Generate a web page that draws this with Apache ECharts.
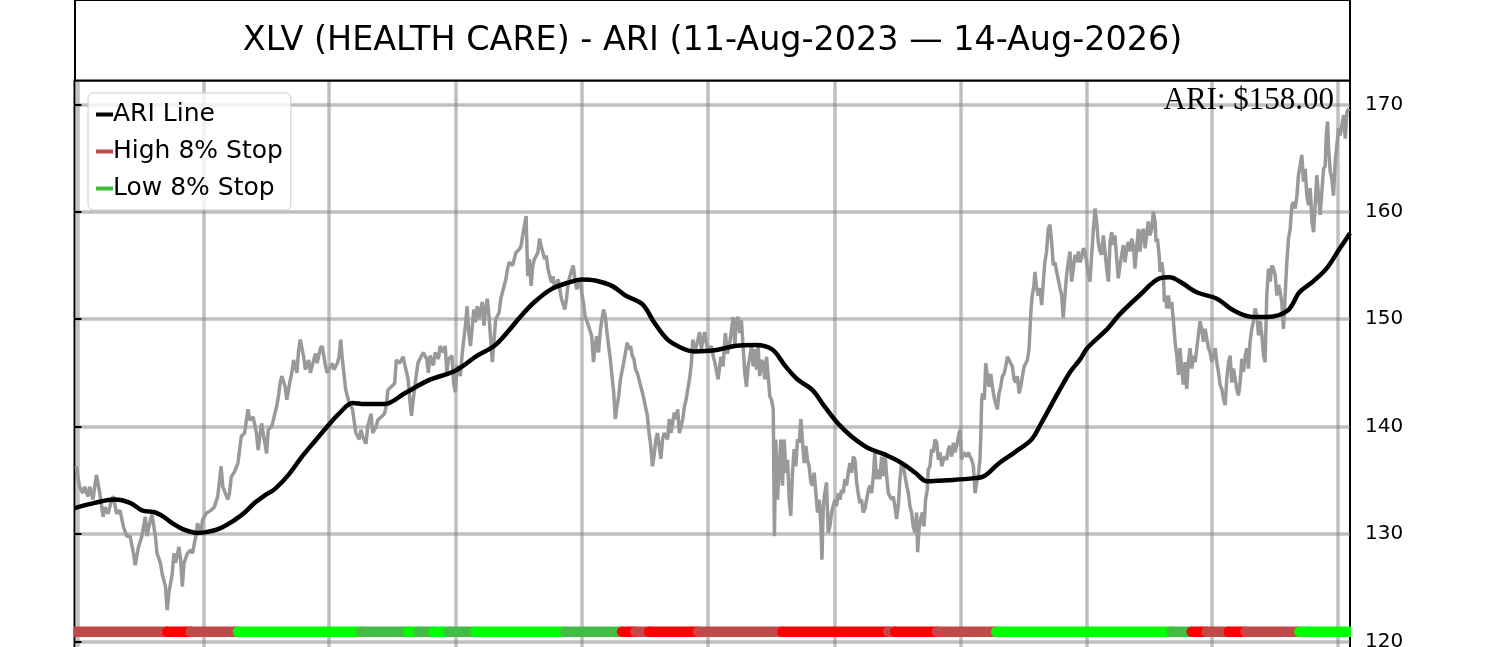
<!DOCTYPE html>
<html><head><meta charset="utf-8">
<script src="https://cdn.jsdelivr.net/npm/echarts@6/dist/echarts.min.js"></script>
<style>html,body{margin:0;padding:0;background:#fff}#c{width:1500px;height:647px}</style>
</head><body><div id="c"></div>
<script>
const titleText = 'XLV (HEALTH CARE) - ARI (11-Aug-2023 — 14-Aug-2026)';
const ariLabel = 'ARI: $158.00';
const yTicks = [120,130,140,150,160,170];
const xGridTicks = [2,77,151,226,301,376,451,526,601,675,750];
const legendNames = ['ARI Line','High 8% Stop','Low 8% Stop'];

// gray price line: [trading-day index, price]
const priceA = [[1,136.3],[3,134.4],[5,133.8],[6,134.4],[8,133.5],[9,134.4],[11,133.2],[12,134.4],[13,135.5],[15,133.8],[17,131.6],[18,132.5],[20,131.9],[22,133.2],[23,133.5],[25,131.9],[27,132.2],[29,130.7],[31,129.8],[33,129.8],[35,128.2],[36,127.1],[38,128.8],[40,129.8],[41,130.7],[42,131.6],[43,129.8],[45,131.3],[46,131.8],[48,129.8],[49,128.2],[51,127.3],[52,126.3],[54,125.1],[55,122.9],[56,124.5],[58,126.3],[59,128.2],[60,127.3],[62,128.8],[63,127.6],[64,125.1],[65,127.3],[67,128.2],[69,128.5],[70,128.2],[72,129.8],[73,131.0],[75,130.1],[76,131.3],[78,131.9],[79,131.9],[81,132.2],[83,132.5],[85,133.5],[87,136.3],[88,134.4],[89,134.4],[91,133.2],[92,133.8],[93,135.3],[95,135.8],[96,135.7],[97,136.6],[99,139.1],[101,139.4],[102,140.6],[103,141.6],[104,140.6],[106,140.9],[108,139.4],[109,137.8],[111,140.3],[112,139.4],[114,137.5],[115,139.7],[117,140.0],[118,140.6],[120,141.9],[121,142.8],[122,144.0],[123,144.7],[125,143.7],[126,142.5],[128,144.3],[129,145.0],[130,146.2],[132,145.0],[133,147.1],[134,148.1],[136,146.5],[137,145.3],[139,146.2],[140,145.0],[142,146.2],[143,146.8],[144,145.9],[146,147.3],[147,147.5],[149,145.6],[150,145.0],[151,145.3],[153,145.9],[154,145.3],[156,145.9],[157,146.5],[158,148.1],[159,146.2],[161,143.4],[163,142.2],[164,141.9],[165,141.6],[167,139.4],[169,138.8],[170,139.7],[171,139.1],[173,138.4],[174,140.0],[176,141.2],[177,139.4],[179,140.0],[180,140.6],[182,140.9],[184,141.2],[185,141.9],[186,143.4],[188,143.7],[190,144.0],[191,146.2],[193,145.9],[195,146.5]];
const priceB = [[196,146.6],[198,144.4],[199,142.5],[200,141.0],[201,142.5],[203,145.0],[204,146.0],[206,146.6],[207,146.9],[209,146.3],[210,145.0],[211,146.6],[213,145.7],[214,146.9],[216,146.3],[217,147.5],[219,146.9],[220,147.5],[221,145.0],[222,146.3],[224,146.6],[225,144.1],[226,143.2],[227,145.7],[229,144.7],[230,146.6],[231,148.1],[232,149.4],[233,151.2],[234,148.8],[235,147.5],[237,150.9],[238,149.7],[239,151.2],[240,150.0],[242,151.6],[243,149.4],[244,150.9],[245,151.9],[246,150.3],[247,148.1],[248,146.0],[249,148.1],[250,150.0],[252,150.6],[253,151.9],[254,152.5],[256,153.7],[257,154.7],[258,155.3],[260,155.0],[261,155.6],[262,156.2],[264,156.5],[265,156.8],[266,157.8],[267,158.7],[268,159.6],[269,154.0],[270,155.6],[271,153.1],[272,155.0],[273,155.6],[275,156.2],[276,157.5],[277,156.8],[279,155.6],[280,155.9],[281,154.7],[283,153.4],[284,154.0],[285,152.8],[287,153.7],[288,152.8],[289,151.9],[291,150.9],[292,151.9],[293,153.4],[294,154.0],[296,155.0],[297,153.7],[298,152.8],[300,153.7],[301,152.5],[302,151.6],[303,150.3],[305,149.4],[306,149.4],[307,148.4],[308,146.0],[309,147.5],[310,148.4],[311,146.9],[312,148.8],[313,150.0],[314,150.9],[315,150.3],[316,148.8],[317,147.5],[318,146.3],[319,144.7],[320,143.2],[321,140.7],[322,141.9],[323,142.9],[324,144.4],[326,146.0],[327,146.9],[328,147.8],[329,147.2],[330,147.5],[331,146.6],[332,146.3],[333,145.3],[334,145.0],[336,143.8],[337,143.2],[338,142.5],[340,141.0],[341,139.4],[342,138.2],[343,136.3],[344,137.3],[345,138.8],[346,139.4],[347,138.2],[348,137.0],[349,138.8],[350,139.4],[352,138.8],[353,140.7],[354,139.4],[356,141.3],[357,140.7],[358,141.6],[359,139.4],[361,140.7],[362,141.9],[363,142.5],[364,143.5],[365,144.4],[366,145.7],[367,148.1],[368,146.9],[370,148.1],[371,148.8],[372,147.2],[373,148.1],[374,148.8],[375,147.8],[376,146.9],[378,147.5],[379,146.6],[380,146.0],[382,144.4]];
const priceC = [[383.6,146.5],[384.9,145.6],[386.3,148.7],[387.5,146.8],[388.9,147.8],[389.9,149.0],[390.9,150.2],[391.9,147.5],[392.9,149.9],[393.9,150.2],[394.9,148.7],[395.8,149.9],[396.8,147.5],[397.8,145.0],[398.8,143.7],[399.8,145.6],[400.8,146.5],[401.8,147.5],[402.8,145.6],[403.8,147.2],[404.8,145.3],[405.7,147.5],[406.7,144.7],[407.7,146.2],[408.7,145.9],[409.7,144.4],[410.7,146.5],[411.7,144.7],[412.7,142.8],[413.7,142.5],[414.7,141.6],[415.4,129.8],[416.2,138.8],[417.2,133.2],[418.2,136.0],[419.2,138.8],[420.2,134.5],[421.2,138.8],[422.2,135.7],[423.2,136.9],[424.2,133.2],[425.1,131.7],[426.1,135.7],[427.1,137.9],[428.1,136.3],[429.1,138.8],[430.1,138.5],[431.1,140.7],[432.1,138.5],[433.1,136.6],[434.1,138.2],[435.0,136.9],[436.0,136.3],[437.0,134.8],[438.0,134.5],[439.0,135.7],[440.0,133.8],[441.0,132.0],[442.0,133.2],[443.0,130.7],[443.6,127.6],[444.4,132.6],[445.3,133.8],[446.3,134.8],[447.3,130.1],[448.3,130.7],[449.3,132.0],[450.3,132.6],[451.3,133.2],[452.3,132.6],[453.3,133.8],[454.3,133.2],[455.2,134.1],[456.2,133.8],[457.2,135.1],[458.2,134.5],[459.2,135.7],[460.2,136.6],[461.2,135.7],[462.2,137.2],[463.2,136.9],[464.2,134.8],[465.1,133.8],[466.1,132.9],[467.1,133.2],[468.1,132.0],[469.1,132.3],[470.1,133.2],[471.1,134.1],[472.1,134.5],[473.1,133.8],[474.1,135.4],[475.0,137.6],[476.0,135.1],[477.0,136.0],[478.0,135.1],[479.0,137.2],[480.0,135.4],[481.0,137.6],[482.0,135.4],[483.0,133.8],[484.0,133.5],[485.0,133.2],[485.9,133.5],[486.9,132.6],[487.9,131.4],[488.9,132.6],[489.9,135.1],[490.9,136.6],[491.9,136.3],[492.9,135.4],[493.9,134.5],[494.9,133.8],[495.8,132.6],[496.8,132.0],[497.8,130.7],[498.8,130.1],[499.8,132.0],[500.4,128.3],[501.2,130.4],[502.2,131.4],[503.2,132.0],[504.2,130.7],[505.1,133.2],[506.1,134.1],[506.7,136.0],[507.7,136.3],[508.7,137.9],[509.7,137.6],[510.7,138.8],[511.7,138.5],[512.7,136.9],[513.7,137.6],[514.7,136.3],[515.6,136.9],[516.6,137.2],[517.6,136.9],[518.6,137.9],[519.6,138.2],[520.6,137.2],[521.6,138.5],[522.6,137.6],[523.6,138.2],[524.6,139.1],[525.5,139.7],[526.5,136.9],[527.5,137.6],[528.5,137.6],[529.5,137.2],[530.5,137.6],[531.5,137.2],[532.5,136.9],[533.5,136.3],[534.5,133.8],[535.4,134.8],[536.4,135.4],[537.4,137.0],[538.0,139.7],[538.4,142.5],[539.0,143.1],[540.0,142.5],[540.8,145.9],[541.8,144.7],[542.8,143.7],[543.8,144.9],[544.8,143.7],[545.7,142.8],[546.7,142.2],[547.7,141.6],[548.7,143.1],[549.7,143.7],[550.7,144.7],[551.7,144.9],[552.7,145.6],[553.7,146.5],[554.7,146.2],[555.6,145.9],[556.6,145.6],[557.6,144.4],[558.6,144.1],[559.6,144.7],[560.6,143.1],[561.6,143.7],[562.6,144.7],[563.6,145.6],[564.6,145.9],[565.5,146.2],[566.5,147.2]];
const priceD = [[567.6,150.7],[568.4,152.2],[569.4,153.1],[570.0,154.4],[571.0,152.9],[572.0,152.2],[573.0,152.9],[574.0,151.3],[575.0,153.5],[575.9,155.3],[576.9,156.3],[577.9,158.4],[578.9,158.8],[579.9,157.2],[580.9,155.0],[581.9,155.3],[582.9,154.4],[583.9,154.4],[584.9,152.9],[585.9,152.2],[586.8,150.1],[587.8,152.2],[588.8,154.1],[589.8,155.3],[590.8,156.3],[591.8,153.5],[592.8,154.7],[593.8,156.0],[594.8,155.3],[595.8,156.3],[596.7,155.3],[597.7,155.7],[598.7,156.6],[599.7,156.3],[600.7,155.3],[601.7,154.1],[602.7,153.5],[603.7,156.0],[604.7,158.4],[605.7,160.3],[606.6,159.1],[607.6,157.2],[608.6,156.3],[609.6,156.0],[610.6,157.8],[611.6,156.3],[612.6,154.7],[613.6,153.5],[614.6,157.2],[615.6,158.1],[616.5,156.9],[617.5,157.8],[618.5,155.7],[619.5,153.8],[620.5,155.0],[621.5,156.0],[622.5,156.9],[623.5,155.3],[624.5,156.6],[625.5,157.2],[626.4,156.3],[627.4,157.5],[628.4,156.9],[629.4,154.7],[630.4,156.6],[631.4,158.4],[632.4,156.3],[633.4,158.1],[634.4,158.4],[635.4,156.6],[636.3,157.8],[637.3,159.1],[638.3,157.8],[639.3,158.4],[640.3,160.0],[641.3,159.1],[641.9,157.2],[642.7,157.5],[643.7,156.0],[644.3,154.4],[645.3,155.3],[646.3,154.1],[646.8,151.6],[647.6,152.2],[648.2,151.0],[649.2,152.2],[650.2,151.0],[651.2,151.6],[652.2,149.8],[653.2,147.9],[654.2,146.6],[655.2,144.8],[656.1,147.3],[657.1,145.4],[658.1,143.9],[659.1,146.0],[660.1,143.5],[661.1,146.0],[662.1,147.3],[663.1,145.4],[664.1,146.6],[665.1,146.0],[666.1,147.3],[667.0,148.5],[668.0,149.8],[669.0,149.1],[670.0,147.9],[671.0,149.1],[672.0,148.2],[673.0,147.3],[674.0,146.9],[675.0,146.0],[676.0,146.6],[677.0,147.3],[677.9,146.0],[678.9,145.1],[679.9,143.9],[680.9,143.5],[681.9,142.6],[682.9,142.0],[683.9,144.5],[684.9,146.0],[685.9,146.6],[686.8,144.1],[687.8,145.4],[688.8,144.5],[689.8,143.5],[690.8,142.9],[691.8,144.1],[692.8,146.3],[693.8,145.1],[694.8,146.6],[695.8,147.3],[696.7,145.4],[697.7,147.9],[698.7,149.1],[699.7,149.8],[700.7,151.0],[701.7,150.4],[702.7,148.5],[703.7,149.8],[704.7,148.5],[705.7,146.6],[706.6,146.0],[707.6,152.2],[708.6,154.7],[709.6,153.5],[710.6,155.0],[711.6,154.7],[712.6,154.1],[713.6,152.2],[714.6,153.2],[715.6,152.5],[716.5,151.6],[717.5,149.1],[718.1,150.7],[718.9,153.5],[719.5,155.3],[720.5,157.5],[721.5,158.4],[722.5,160.6],[723.5,160.9],[724.5,160.3],[725.5,161.5],[726.4,163.4],[727.4,164.3],[728.4,165.3],[729.4,162.8],[730.4,164.0],[731.4,161.5],[732.4,160.6],[733.4,162.2],[734.4,159.1],[735.4,158.1],[736.4,160.9],[737.3,163.4],[738.3,161.5],[739.3,159.7],[740.3,161.9],[741.3,164.0],[742.3,164.3],[742.9,167.1],[743.7,168.4],[744.3,165.9],[745.3,163.7],[746.2,163.1],[747.2,161.5],[748.2,164.6],[749.2,166.2],[750.2,167.8],[751.2,167.1],[752.2,168.1],[753.2,169.0],[754.2,166.8],[755.2,169.3],[756.2,169.6]];

// black ARI line: [index, value]
const ariData = [[0,132.4],[12,132.9],[24,133.2],[33,132.9],[40,132.2],[48,132.0],[53,131.6],[58,131.0],[65,130.4],[73,130.1],[79,130.2],[86,130.5],[95,131.3],[101,132.0],[107,132.9],[113,133.6],[119,134.2],[127,135.5],[135,137.2],[143,138.7],[150,140.0],[157,141.2],[165,142.2],[172,142.1],[184,142.1],[196,143.1],[210,144.3],[226,145.2],[239,146.6],[249,147.5],[257,148.8],[265,150.3],[273,151.6],[283,152.8],[293,153.4],[301,153.7],[309,153.6],[319,153.1],[327,152.2],[337,151.4],[344,149.7],[352,148.1],[362,147.2],[368,147.0],[380,147.1],[392,147.5],[404,147.6],[414,147.2],[422,145.6],[429,144.4],[438,143.4],[445,141.9],[453,140.3],[461,139.1],[471,138.0],[481,137.4],[491,136.6],[499,135.7],[506,134.9],[518,135.0],[534,135.2],[540,135.4],[548,136.5],[558,137.6],[568,138.8],[573,140.1],[585,143.5],[591,145.1],[597,146.3],[601,147.3],[613,149.1],[620,150.4],[632,152.2],[644,153.8],[650,153.9],[656,153.5],[666,152.5],[678,151.9],[688,150.8],[699,150.2],[708,150.2],[720,150.8],[727,152.5],[735,153.5],[743,154.7],[751,156.6],[757,158.0]];

// bottom stop band: segment start indices and their state
const bandStarts = [0,55,69,97,170,198,204,213,222,238,291,325,333,341,370,420,483,487,512,547,651,663,672,685,695,727];
const bandTypes = ['D','R','D','G','g','G','g','G','g','G','g','R','D','R','D','R','D','R','D','G','g','R','D','R','D','G'];
const bandEnd = 757;
const bandLevel = 120.9;
const bandColors = {D:'#be4b48', R:'#ff0000', G:'#00ff00', g:'#44bb44'};

const priceData = priceA.concat(priceB, priceC, priceD);
const bandData = bandStarts.map((s,k)=>[s, k < bandStarts.length-1 ? bandStarts[k+1] : bandEnd, bandLevel]);

const chart = echarts.init(document.getElementById('c'), null, {renderer:'canvas'});
const gridLine = {color:'rgba(128,128,128,0.5)', width:3.5};
chart.setOption({
  animation:false,
  backgroundColor:'#ffffff',
  grid:{left:74.5, right:150, top:80.5, bottom:-101.8, show:true, borderColor:'#000', borderWidth:2, backgroundColor:'transparent', containLabel:false, outerBoundsMode:'none'},
  xAxis:{type:'value', min:0, max:757,
    axisLine:{show:false},
    axisTick:{show:false, customValues:xGridTicks},
    axisLabel:{show:false, customValues:xGridTicks},
    splitLine:{show:true, lineStyle:gridLine}},
  yAxis:{type:'value', position:'right', min:110, max:172.22, interval:10,
    axisLine:{show:false},
    axisTick:{show:true, inside:false, length:7, lineStyle:{color:'#000', width:2}, customValues:yTicks},
    axisLabel:{show:true, margin:15, color:'#000', fontSize:20, fontFamily:'DejaVu Sans', customValues:yTicks},
    splitLine:{show:true, lineStyle:gridLine}},
  legend:{
    data:[
      {name:legendNames[0], itemStyle:{color:'#000000'}},
      {name:legendNames[1], itemStyle:{color:'#c04b4b'}},
      {name:legendNames[2], itemStyle:{color:'#3fbf3f'}}
    ],
    orient:'vertical', left:88, top:93, icon:'rect', itemWidth:17, itemHeight:4, itemGap:12,
    padding:[9,8,9,8], backgroundColor:'rgba(255,255,255,0.8)', borderColor:'#cccccc', borderWidth:1, borderRadius:5,
    selectedMode:false,
    textStyle:{fontFamily:'DejaVu Sans', fontSize:25, lineHeight:25, color:'#000', padding:[0,0,0,-5]}
  },
  graphic:[
    {type:'rect', z:10, shape:{x:75, y:0, width:1275, height:80.5}, style:{fill:'#fff', stroke:'#000', lineWidth:2}},
    {type:'text', z:11, x:712.5, y:41, style:{text:titleText, fontSize:33.4, fontFamily:'DejaVu Sans', fill:'#000', align:'center', verticalAlign:'middle', textAlign:'center', textVerticalAlign:'middle'}},
    {type:'text', z:11, x:1334, y:101, style:{text:ariLabel, fontSize:31, fontFamily:'Liberation Serif', fill:'#000', align:'right', verticalAlign:'middle', textAlign:'right', textVerticalAlign:'middle'}}
  ],
  series:[
    {type:'custom', name:'band', clip:true, silent:true, z:2, data:bandData, encode:{x:[0,1], y:2},
      renderItem:function(params, api){
        const p1 = api.coord([api.value(0), api.value(2)]);
        const p2 = api.coord([api.value(1), api.value(2)]);
        return {type:'line', shape:{x1:p1[0], y1:p1[1], x2:p2[0], y2:p2[1]},
          style:{stroke:bandColors[bandTypes[params.dataIndex]], lineWidth:10.5, lineCap:'round'}};
      }},
    {type:'line', name:'price', data:priceData, symbol:'none', showSymbol:false, silent:true, z:2, clip:true,
      lineStyle:{color:'#999999', width:3.5}, itemStyle:{color:'#999999'}},
    {type:'line', name:legendNames[0], data:ariData, smooth:0.35, symbol:'none', showSymbol:false, silent:true, z:3,
      lineStyle:{color:'#000', width:4.5}, itemStyle:{color:'#000'}},
    {type:'line', name:legendNames[1], data:[], symbol:'none', itemStyle:{color:'#c04b4b'}, lineStyle:{color:'#c04b4b'}},
    {type:'line', name:legendNames[2], data:[], symbol:'none', itemStyle:{color:'#3fbf3f'}, lineStyle:{color:'#3fbf3f'}}
  ]
});
</script></body></html>
